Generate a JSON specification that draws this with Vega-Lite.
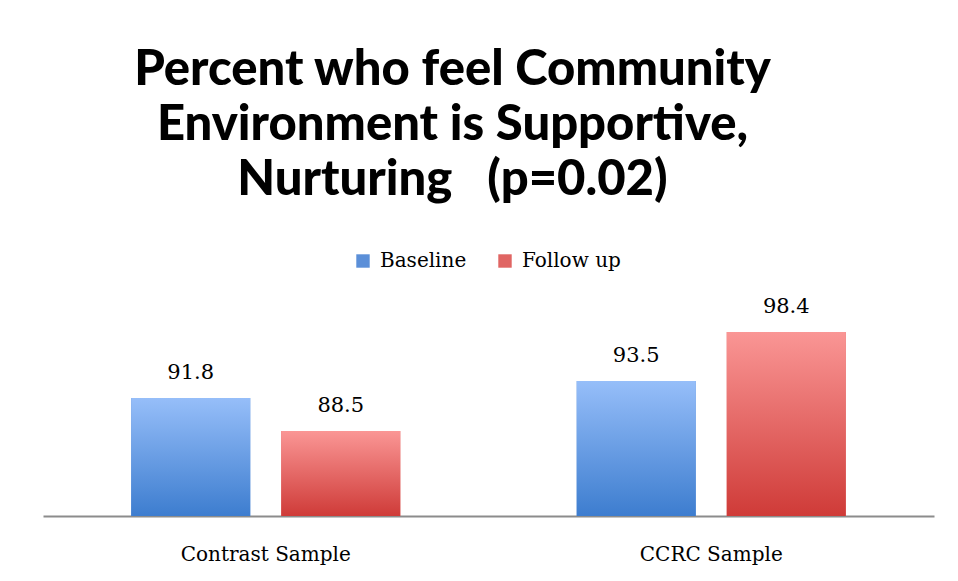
{
  "$schema": "https://vega.github.io/schema/vega-lite/v6.json",
  "width": 891,
  "height": 200,
  "autosize": {"type": "none"},
  "padding": {"left": 43, "top": 316, "right": 24, "bottom": 65},
  "background": "white",
  "title": {
    "text": ["Percent who feel Community", "Environment is Supportive,", "Nurturing \u00a0 (p=0.02)"],
    "font": "Lato",
    "fontWeight": 900,
    "fontSize": 49,
    "lineHeight": 55,
    "color": "black",
    "anchor": "middle",
    "frame": "group",
    "dx": -36,
    "offset": 46
  },
  "data": {
    "values": [
      {"sample": "Contrast Sample", "series": "Baseline", "value": 91.8},
      {"sample": "Contrast Sample", "series": "Follow up", "value": 88.5},
      {"sample": "CCRC Sample", "series": "Baseline", "value": 93.5},
      {"sample": "CCRC Sample", "series": "Follow up", "value": 98.4}
    ]
  },
  "encoding": {
    "x": {
      "field": "sample",
      "type": "nominal",
      "sort": ["Contrast Sample", "CCRC Sample"],
      "scale": {"paddingInner": 0, "paddingOuter": 0},
      "axis": {
        "title": null,
        "labelAngle": 0,
        "ticks": false,
        "domainColor": "#8c8c8c",
        "domainWidth": 2,
        "labelFont": "DejaVu Serif",
        "labelFontSize": 20,
        "labelColor": "black",
        "labelPadding": 28
      }
    },
    "xOffset": {
      "field": "series",
      "type": "nominal",
      "sort": ["Baseline", "Follow up"],
      "scale": {"paddingInner": 0.2067, "paddingOuter": 0.588}
    },
    "y": {
      "field": "value",
      "type": "quantitative",
      "scale": {"domain": [80, 100], "zero": false},
      "axis": null
    }
  },
  "layer": [
    {
      "mark": {"type": "bar"},
      "encoding": {
        "y2": {"datum": 80},
        "fill": {
          "field": "series",
          "type": "nominal",
          "sort": ["Baseline", "Follow up"],
          "scale": {"range": ["#5b8fd8", "#e06563"]},
          "legend": {
            "title": null,
            "orient": "none",
            "legendX": 310,
            "legendY": -65,
            "direction": "horizontal",
            "symbolType": "square",
            "symbolSize": 180,
            "symbolStrokeWidth": 0,
            "labelFont": "DejaVu Serif",
            "labelFontSize": 20,
            "labelColor": "black",
            "columnPadding": 28,
            "labelOffset": 7
          }
        }
      }
    },
    {
      "mark": {"type": "bar"},
      "encoding": {
        "y2": {"datum": 80},
        "fill": {
          "condition": {
            "test": "datum.series === 'Baseline'",
            "value": {
              "gradient": "linear", "x1": 0, "y1": 0, "x2": 0, "y2": 1,
              "stops": [{"offset": 0, "color": "#96bef9"}, {"offset": 1, "color": "#3d7dcf"}]
            }
          },
          "value": {
            "gradient": "linear", "x1": 0, "y1": 0, "x2": 0, "y2": 1,
            "stops": [{"offset": 0, "color": "#fa9695"}, {"offset": 1, "color": "#cf3b38"}]
          }
        }
      }
    },
    {
      "mark": {"type": "text", "baseline": "bottom", "dy": -15, "font": "DejaVu Serif", "fontSize": 21, "color": "black"},
      "encoding": {
        "text": {"field": "value", "type": "quantitative", "format": ".1f"}
      }
    }
  ],
  "config": {"view": {"stroke": null}}
}
